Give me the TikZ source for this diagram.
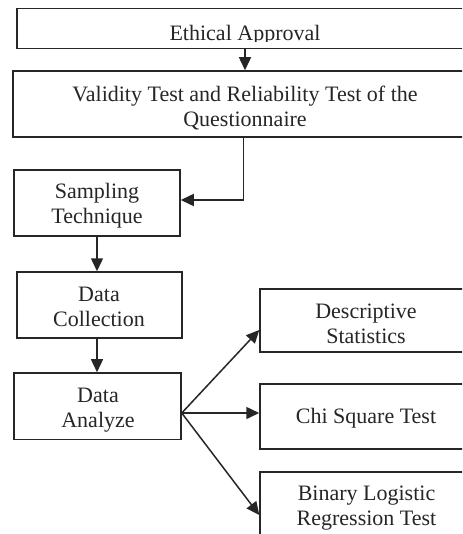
\documentclass[tikz,border=0pt]{standalone}
\usepackage{fontspec}
\setmainfont{Liberation Serif}
\usetikzlibrary{arrows.meta}
\tikzset{
  boxnode/.style={draw=black!85, line width=1.5pt, inner sep=0pt, rectangle},
  txt/.style={inner sep=0pt, align=center, font=\fontsize{22}{25}\selectfont, text=black!85},
  arr/.style={draw=black!85, line width=1.5pt, -{Triangle[length=13pt,width=12pt]}},
  conn/.style={draw=black!85, line width=1.5pt}
}
\begin{document}
\begin{tikzpicture}[x=1pt,y=-1pt]
\useasboundingbox (0,0) rectangle (462,534);
\clip (0,0) rectangle (462,534);
\fill[white] (0,0) rectangle (462,534);
% boxes
\node[boxnode, minimum width=456pt, minimum height=40.2pt] (E) at (245,28.6) {};
\node[boxnode, minimum width=464pt, minimum height=66pt] (V) at (245,104) {};
\node[boxnode, minimum width=166pt, minimum height=66pt] (S) at (97,203) {};
\node[boxnode, minimum width=165pt, minimum height=66pt] (C) at (99.5,305) {};
\node[boxnode, minimum width=167pt, minimum height=66.5pt] (A) at (97.5,406.2) {};
\node[boxnode, minimum width=212pt, minimum height=63pt] (D) at (366,320.5) {};
\node[boxnode, minimum width=212pt, minimum height=65pt] (Q) at (366,416.5) {};
\node[boxnode, minimum width=213pt, minimum height=68pt] (B) at (366.5,506) {};
% texts
\begin{scope}
\clip (17,0) rectangle (473,41.3);
\node[txt] (tE) at (245,35.8) {\strut Ethical Approval};
\end{scope}
\node[txt] (tV) at (245,109.2) {\strut Validity Test and Reliability Test of the\\\strut Questionnaire};
\node[txt] (tS) at (97,206.5) {\strut Sampling\\\strut Technique};
\node[txt] (tC) at (99,309.2) {\strut Data\\\strut Collection};
\node[txt] (tA) at (98,410.2) {\strut Data\\\strut Analyze};
\node[txt] (tD) at (366,325.8) {\strut Descriptive\\\strut Statistics};
\node[txt] (tQ) at (366,418.3) {\strut Chi Square Test};
\node[txt] (tB) at (366.5,507.5) {\strut Binary Logistic\\\strut Regression Test};
% connectors
\draw[arr] (E.south) -- (V.north);
\draw[arr] ([xshift=-1.7pt]V.south) |- ([yshift=3pt]S.east);
\draw[arr] (S.south) -- (S.south |- C.north);
\draw[arr] (C.south -| S.south) -- (S.south |- A.north);
\coordinate (fan) at ([yshift=-6.8pt]A.east);
\draw[arr] (fan) -- ([yshift=-9.5pt]D.west);
\draw[arr] (fan) -- ([yshift=3.5pt]Q.west);
\draw[arr] (fan) -- ([yshift=-9pt]B.west);
\end{tikzpicture}
\end{document}
